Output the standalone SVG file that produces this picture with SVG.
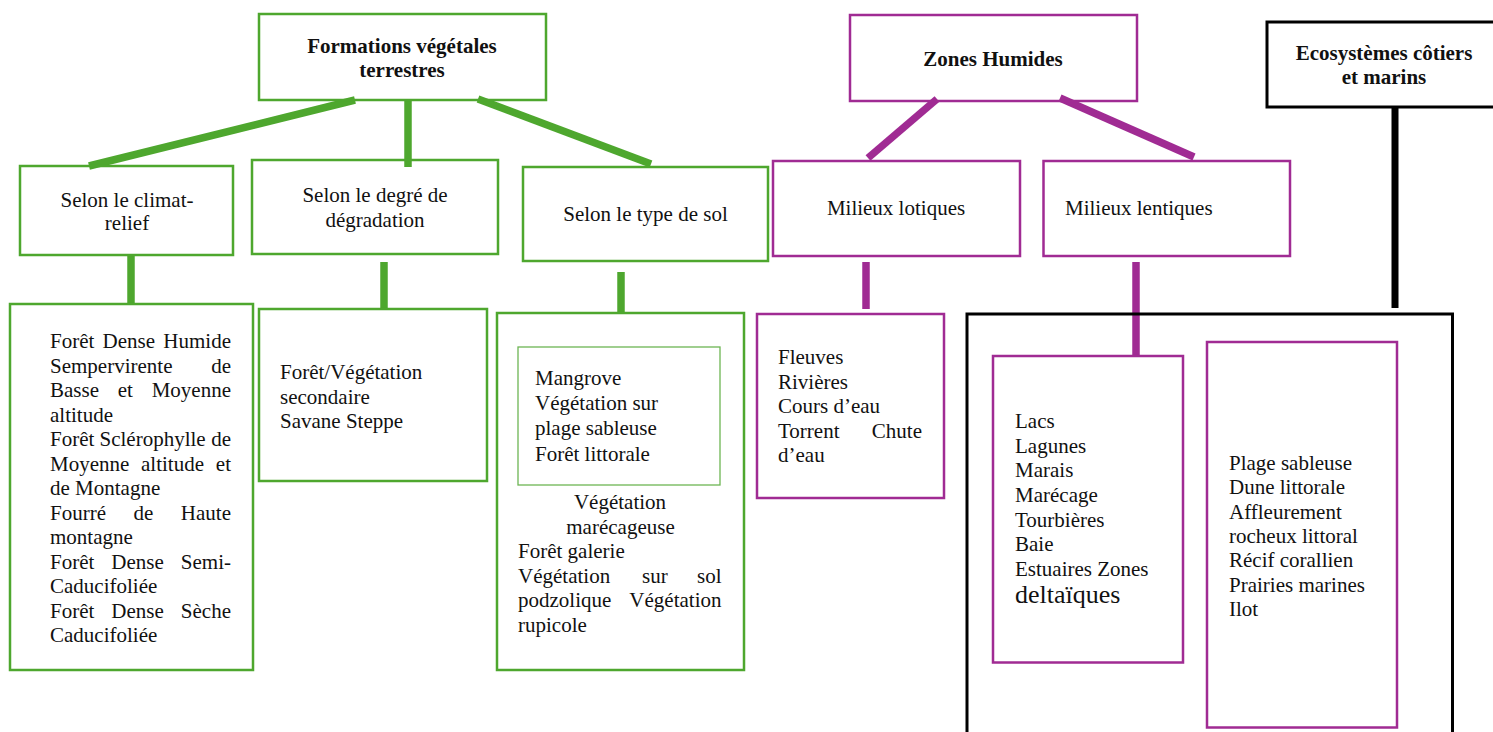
<svg xmlns="http://www.w3.org/2000/svg" width="1493" height="732" viewBox="0 0 1493 732">
  <style>
    .bg { fill: #ffffff; }
    .g { fill: none; stroke: #4EA72E; stroke-width: 2.5; }
    .gi { fill: none; stroke: #6DB554; stroke-width: 1.3; }
    .p { fill: none; stroke: #A02B93; stroke-width: 2.5; }
    .k { fill: none; stroke: #000000; stroke-width: 3; }
    .lg { stroke: #4EA72E; stroke-width: 7.5; fill: none; }
    .lp { stroke: #A02B93; stroke-width: 7.5; fill: none; }
    .lk { stroke: #000000; stroke-width: 7; fill: none; }
    text { font-family: "Liberation Serif", "Times New Roman", serif; font-size: 21px; fill: #111111; }
    .b { font-weight: bold; }
    .c { text-anchor: middle; }
    .e { text-anchor: end; }
    .big { font-size: 26px; }
  </style>
  <rect class="bg" x="0" y="0" width="1493" height="732"/>

  <!-- connectors -->
  <g id="connectors">
    <line class="lg" x1="355" y1="100" x2="89" y2="166"/>
    <line class="lg" x1="408" y1="101" x2="408" y2="167"/>
    <line class="lg" x1="478" y1="99" x2="651" y2="164"/>
    <line class="lg" x1="131" y1="255" x2="131" y2="304"/>
    <line class="lg" x1="384" y1="262" x2="384" y2="309"/>
    <line class="lg" x1="621" y1="272" x2="621" y2="313"/>
    <line class="lp" x1="937" y1="99" x2="868" y2="158"/>
    <line class="lp" x1="1060" y1="98" x2="1194" y2="157"/>
    <line class="lp" x1="866" y1="262" x2="866" y2="309"/>
    <line class="lp" x1="1136" y1="262" x2="1136" y2="356"/>
    <line class="lk" x1="1395" y1="107" x2="1395" y2="308"/>
  </g>

  <!-- terrestrial vegetation formations -->
  <g id="formations">
    <rect class="g" x="259" y="14" width="287" height="86"/>
    <text class="b c" x="402" y="53">Formations végétales</text>
    <text class="b c" x="402" y="77">terrestres</text>
  </g>

  <g id="climat-relief">
    <rect class="g" x="20" y="166" width="213" height="89"/>
    <text class="c" x="127" y="207">Selon le climat-</text>
    <text class="c" x="127" y="230">relief</text>
  </g>

  <g id="degradation">
    <rect class="g" x="252" y="160" width="246" height="94"/>
    <text class="c" x="375" y="202">Selon le degré de</text>
    <text class="c" x="375" y="227">dégradation</text>
  </g>

  <g id="type-sol">
    <rect class="g" x="523" y="167" width="245" height="94"/>
    <text class="c" x="645.5" y="221">Selon le type de sol</text>
  </g>

  <g id="liste-climat">
    <rect class="g" x="10" y="304" width="243" height="366"/>
    <text x="50" y="348">Forêt</text><text x="102.6" y="348">Dense</text><text class="e" x="231" y="348">Humide</text>
    <text x="50" y="372.5">Sempervirente</text><text class="e" x="231" y="372.5">de</text>
    <text x="50" y="397">Basse</text><text x="117.8" y="397">et</text><text class="e" x="231" y="397">Moyenne</text>
    <text x="50" y="421.5">altitude</text>
    <text x="50" y="446">Forêt</text><text x="99.5" y="446">Sclérophylle</text><text class="e" x="231" y="446">de</text>
    <text x="50" y="470.5">Moyenne</text><text x="141" y="470.5">altitude</text><text class="e" x="231" y="470.5">et</text>
    <text x="50" y="495">de Montagne</text>
    <text x="50" y="519.5">Fourré</text><text x="133.5" y="519.5">de</text><text class="e" x="231" y="519.5">Haute</text>
    <text x="50" y="544">montagne</text>
    <text x="50" y="568.5">Forêt</text><text x="111.3" y="568.5">Dense</text><text class="e" x="231" y="568.5">Semi-</text>
    <text x="50" y="593">Caducifoliée</text>
    <text x="50" y="617.5">Forêt</text><text x="111.3" y="617.5">Dense</text><text class="e" x="231" y="617.5">Sèche</text>
    <text x="50" y="642">Caducifoliée</text>
  </g>

  <g id="liste-degradation">
    <rect class="g" x="259" y="309" width="228" height="172"/>
    <text x="280" y="379.3">Forêt/Végétation</text>
    <text x="280" y="403.5">secondaire</text>
    <text x="280" y="427.5">Savane Steppe</text>
  </g>

  <g id="liste-sol">
    <rect class="g" x="497" y="313" width="247" height="357"/>
    <rect class="gi" x="518" y="347" width="202" height="138"/>
    <text x="535" y="385">Mangrove</text>
    <text x="535" y="410">Végétation sur</text>
    <text x="535" y="435">plage sableuse</text>
    <text x="535" y="460.5">Forêt littorale</text>
    <text class="c" x="620" y="509.3">Végétation</text>
    <text class="c" x="620.5" y="533.5">marécageuse</text>
    <text x="518" y="558">Forêt galerie</text>
    <text x="518" y="582.5">Végétation</text><text x="642" y="582.5">sur</text><text class="e" x="721.5" y="582.5">sol</text>
    <text x="518" y="607">podzolique</text><text class="e" x="721.5" y="607">Végétation</text>
    <text x="518" y="631.5">rupicole</text>
  </g>

  <!-- wetlands -->
  <g id="zones-humides">
    <rect class="p" x="850" y="15" width="287" height="86"/>
    <text class="b c" x="993" y="66">Zones Humides</text>
  </g>

  <g id="milieux-lotiques">
    <rect class="p" x="773" y="161" width="247" height="95"/>
    <text class="c" x="896" y="215">Milieux lotiques</text>
  </g>

  <g id="milieux-lentiques">
    <rect class="p" x="1043.5" y="161" width="246.5" height="95"/>
    <text x="1065" y="215">Milieux lentiques</text>
  </g>

  <g id="liste-lotiques">
    <rect class="p" x="757" y="314" width="187" height="184"/>
    <text x="778" y="364">Fleuves</text>
    <text x="778" y="388.5">Rivières</text>
    <text x="778" y="413">Cours d’eau</text>
    <text x="778" y="437.5">Torrent</text><text class="e" x="922" y="437.5">Chute</text>
    <text x="778" y="462">d’eau</text>
  </g>

  <!-- coastal and marine ecosystems -->
  <g id="ecosystemes">
    <rect class="k" x="1267" y="22" width="250" height="85"/>
    <text class="b c" x="1384" y="60">Ecosystèmes côtiers</text>
    <text class="b c" x="1384" y="84">et marins</text>
  </g>

  <g id="cadre-cotier">
    <rect class="k" x="967" y="314" width="485.5" height="450"/>
  </g>

  <g id="liste-lentiques">
    <rect class="p" x="993" y="356" width="190" height="306.5"/>
    <text x="1015" y="428.3">Lacs</text>
    <text x="1015" y="452.7">Lagunes</text>
    <text x="1015" y="477.3">Marais</text>
    <text x="1015" y="501.7">Marécage</text>
    <text x="1015" y="526.5">Tourbières</text>
    <text x="1015" y="550.7">Baie</text>
    <text x="1015" y="576">Estuaires Zones</text>
    <text class="big" x="1015" y="603.3">deltaïques</text>
  </g>

  <g id="liste-cotiere">
    <rect class="p" x="1207" y="342" width="190" height="385.5"/>
    <text x="1229" y="470">Plage sableuse</text>
    <text x="1229" y="494.3">Dune littorale</text>
    <text x="1229" y="518.5">Affleurement</text>
    <text x="1229" y="542.7">rocheux littoral</text>
    <text x="1229" y="567.3">Récif corallien</text>
    <text x="1229" y="591.7">Prairies marines</text>
    <text x="1229" y="616">Ilot</text>
  </g>
</svg>
